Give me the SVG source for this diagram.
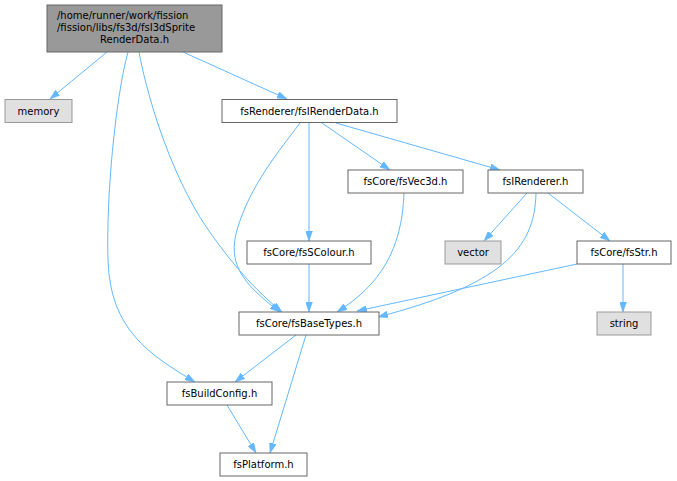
<svg xmlns="http://www.w3.org/2000/svg" width="677" height="481" viewBox="0 0 677 481">
<style>
  .n rect { fill: #ffffff; stroke: #666666; stroke-width: 1; }
  .n.ext rect { fill: #e0e0e0; stroke: #999999; }
  .n.root rect { fill: #999999; stroke: #666666; }
  text { font-family: "DejaVu Sans", "Liberation Sans", sans-serif; font-size: 10px; fill: #000000; }
  .n text { text-anchor: middle; }
  #edges path { fill: none; stroke: #63b8ff; stroke-width: 1; marker-end: url(#arr); }
</style>
<defs>
  <marker id="arr" markerUnits="userSpaceOnUse" viewBox="0 0 10 7" markerWidth="10" markerHeight="7" refX="10" refY="3.5" orient="auto">
    <path d="M0,0 L10,3.5 L0,7 Z" fill="#63b8ff" stroke="#63b8ff" stroke-width="0.5"/>
  </marker>
</defs>
<rect width="677" height="481" fill="#ffffff"/>
<g id="edges">
  <path d="M107,52 L50,99"/>
  <path d="M183,52 L287,99"/>
  <path d="M128,52 C115,100 106,200 108,260 C110,330 150,355 195,382"/>
  <path d="M139,52 C150,110 175,180 205,225 C230,262 255,290 282,312"/>
  <path d="M300,123 C280,150 250,185 237,230 C228,262 240,282 280,312"/>
  <path d="M309,123 L309,241"/>
  <path d="M322,123 L390,170"/>
  <path d="M336,123 L500,170"/>
  <path d="M404,193 C402,250 380,285 337,312"/>
  <path d="M309,264 L309,312"/>
  <path d="M527,193 L484,241"/>
  <path d="M548,193 L610,241"/>
  <path d="M536,193 C535,250 500,285 378,317"/>
  <path d="M577,264 L357,311"/>
  <path d="M623,264 L623,312"/>
  <path d="M296,335 L235,382"/>
  <path d="M306,335 L270,453"/>
  <path d="M227,405 L256,453"/>
</g>
<g id="node-root" class="n root">
  <rect x="47" y="5" width="175" height="47"/>
  <text x="57" y="19" style="text-anchor:start">/home/runner/work/fission</text>
  <text x="57" y="31" style="text-anchor:start">/fission/libs/fs3d/fsI3dSprite</text>
  <text x="134.5" y="43">RenderData.h</text>
</g>
<g id="node-memory" class="n ext">
  <rect x="5" y="99.5" width="67" height="23"/>
  <text x="38.5" y="114.5">memory</text>
</g>
<g id="node-renderdata" class="n">
  <rect x="222" y="99.5" width="175" height="23"/>
  <text x="309.5" y="114.5">fsRenderer/fsIRenderData.h</text>
</g>
<g id="node-vec3d" class="n">
  <rect x="348" y="170" width="115" height="23"/>
  <text x="405.5" y="185">fsCore/fsVec3d.h</text>
</g>
<g id="node-irenderer" class="n">
  <rect x="488" y="170" width="95" height="23"/>
  <text x="535.5" y="185">fsIRenderer.h</text>
</g>
<g id="node-scolour" class="n">
  <rect x="247" y="241" width="124" height="23"/>
  <text x="309" y="256">fsCore/fsSColour.h</text>
</g>
<g id="node-vector" class="n ext">
  <rect x="445" y="241" width="56" height="23"/>
  <text x="473" y="256">vector</text>
</g>
<g id="node-fsstr" class="n">
  <rect x="577" y="241" width="94" height="23"/>
  <text x="624" y="256">fsCore/fsStr.h</text>
</g>
<g id="node-basetypes" class="n">
  <rect x="239" y="312" width="140" height="23"/>
  <text x="309" y="327">fsCore/fsBaseTypes.h</text>
</g>
<g id="node-string" class="n ext">
  <rect x="597" y="312" width="54" height="23"/>
  <text x="624" y="327">string</text>
</g>
<g id="node-buildconfig" class="n">
  <rect x="167" y="382" width="105" height="23"/>
  <text x="219.5" y="397">fsBuildConfig.h</text>
</g>
<g id="node-platform" class="n">
  <rect x="220" y="453" width="87" height="23"/>
  <text x="263.5" y="468">fsPlatform.h</text>
</g>
</svg>
